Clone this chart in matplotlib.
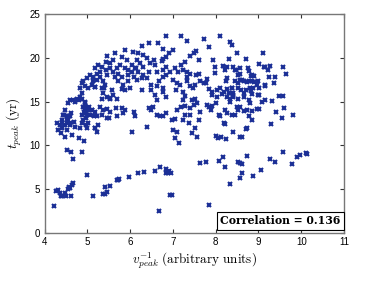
import numpy as np
import matplotlib
matplotlib.use('Agg')
import matplotlib.pyplot as plt

# lower branch and sparse points under the main cloud
low_x = [4.22, 4.27, 4.32, 4.36, 4.38, 4.41, 4.48, 4.50, 4.62, 4.56, 4.57, 4.60, 4.64, 4.66,
         5.00, 5.13, 5.36, 5.41, 5.46, 5.42, 5.53, 5.69, 5.72, 5.75, 5.97, 6.18, 6.32, 6.58,
         6.71, 6.83, 6.85, 6.91, 6.95, 6.88, 6.93, 6.97, 6.67,
         7.64, 7.78, 8.07, 8.17, 8.21, 8.34, 8.51, 8.56, 8.61, 8.61, 8.57, 8.72, 8.87, 9.06,
         9.28, 9.39, 9.57, 9.78, 9.90, 9.96, 10.10, 10.13, 7.84,
         4.52, 4.62, 4.67, 4.88, 4.92, 7.14]
low_y = [3.1, 4.8, 4.85, 4.6, 4.2, 4.2, 4.6, 4.2, 4.2, 5.0, 5.3, 5.15, 5.5, 5.7,
         6.65, 4.2, 4.45, 4.5, 4.7, 5.2, 5.37, 6.0, 6.1, 6.15, 6.4, 6.8, 7.0, 7.1,
         7.55, 7.3, 6.9, 7.1, 6.8, 6.85, 4.3, 4.35, 2.55,
         8.03, 8.14, 8.25, 8.64, 7.5, 5.55, 8.07, 7.97, 7.9, 6.9, 6.24, 8.79, 6.5, 7.19,
         8.41, 8.14, 9.2, 7.88, 8.64, 8.9, 9.1, 9.05, 3.2,
         9.5, 9.2, 8.5, 9.2, 10.45, 10.25]

# main cloud, left half
left_x = [6.83, 7.20, 6.43, 6.66, 6.27, 6.06, 6.19, 5.87, 5.65, 5.45,
          6.78, 6.90, 6.84, 7.00, 6.56, 6.47, 6.74, 6.78, 6.39, 6.30,
          6.15, 6.23, 6.31, 5.92, 6.04, 6.11, 5.96, 5.80, 5.76, 5.69, 5.61,
          5.53, 5.44, 5.34, 5.26, 5.18, 5.30, 5.22, 5.44, 5.53, 5.47,
          5.61, 5.65, 5.72, 5.80, 5.72, 5.80, 5.88, 5.94, 6.04, 6.14, 6.19,
          6.08, 6.15, 6.27, 6.39, 6.31, 6.45, 6.58, 6.62, 6.76, 6.84, 6.93,
          6.50, 6.62, 6.76, 6.68, 6.85, 6.78, 7.05, 7.13, 7.20, 7.28, 7.24, 7.32,
          7.01, 7.09, 7.17, 7.07, 7.23, 7.28,
          4.91, 4.87, 4.83, 5.00, 5.06, 5.14, 5.22, 4.95, 5.02, 5.10, 5.18, 5.14, 5.30, 5.37,
          5.34, 5.42, 5.36, 5.45, 5.61, 5.57, 5.34, 5.53, 5.69,
          5.84, 5.88, 5.96, 6.00, 6.27, 6.50, 6.58, 6.78, 6.85, 6.62,
          7.23, 7.20, 7.10, 7.28,
          4.60, 4.67, 4.75, 4.83, 4.87, 4.56, 4.95, 4.98, 4.91, 5.02, 4.95, 4.97,
          4.87, 4.98, 4.89, 5.06, 5.10, 5.02, 5.18, 5.22, 5.30, 5.37, 5.34,
          4.48, 4.44, 4.52, 4.60, 4.56, 4.63, 4.40, 4.36, 4.46, 4.52, 4.40, 4.52, 4.60,
          4.29, 4.32, 4.39, 4.48, 4.71, 4.83, 4.98, 5.18, 5.26, 5.22,
          5.45, 5.53, 5.69, 5.67, 5.80, 5.84, 5.88, 6.08, 6.11,
          6.43, 6.50, 6.54, 6.62, 6.70, 6.85, 6.78, 6.97, 7.05, 7.01, 7.09,
          7.28, 7.23, 6.04, 6.39, 7.04]
left_y = [22.5, 22.5, 21.65, 21.65, 21.3, 20.7, 20.5, 20.9, 20.5, 20.2,
          21.0, 20.6, 20.1, 20.9, 19.8, 19.4, 19.6, 19.9, 19.95, 20.3,
          19.8, 19.4, 19.0, 19.75, 19.2, 18.8, 18.6, 20.1, 19.2, 18.8, 19.75,
          19.4, 19.55, 19.0, 19.2, 18.8, 18.4, 18.2, 18.6, 18.8, 18.05,
          18.4, 17.85, 18.2, 17.85, 17.3, 16.4, 18.8, 18.05, 18.4, 18.8, 18.4,
          17.85, 17.5, 17.65, 17.65, 18.0, 18.4, 19.2, 18.4, 18.6, 19.0, 18.4,
          16.9, 16.8, 17.85, 17.3, 18.0, 16.6, 18.8, 18.4, 19.2, 19.55, 18.6, 17.85,
          17.45, 17.1, 16.9, 16.3, 16.1, 15.6,
          17.3, 17.1, 16.5, 17.65, 18.05, 17.85, 17.45, 16.8, 16.5, 16.9, 16.7, 17.3, 17.85, 17.3,
          16.5, 16.9, 15.95, 15.55, 15.75, 16.3, 15.35, 15.35, 15.35,
          16.9, 16.3, 17.3, 16.5, 16.3, 16.3, 15.75, 16.1, 15.55, 15.2,
          15.2, 14.4, 14.05, 14.5,
          15.2, 15.2, 15.35, 15.5, 15.25, 14.8, 15.0, 14.4, 14.4, 14.05, 14.05, 13.65,
          13.5, 13.1, 12.9, 13.5, 14.05, 12.6, 13.85, 13.3, 14.4, 14.05, 13.5,
          14.05, 13.5, 13.35, 13.3, 12.9, 13.65, 12.9, 12.3, 12.3, 12.5, 11.95, 11.75, 12.3,
          12.5, 11.75, 11.4, 11.0, 12.1, 11.95, 12.3, 11.95, 12.3, 11.55,
          13.1, 13.85, 13.3, 14.25, 14.25, 13.65, 14.05, 13.85, 13.3,
          14.25, 14.05, 14.4, 13.5, 13.35, 13.65, 13.3, 12.9, 13.0, 11.75, 11.55,
          13.5, 12.9, 11.55, 12.1, 10.9]

# main cloud, right half
right_x = [7.73, 8.11, 8.33, 8.38, 7.84, 7.33, 8.50, 7.50, 7.55, 7.41, 7.60, 7.94, 8.32,
           7.99, 8.18, 8.41, 7.99, 8.21, 8.48, 8.56, 8.52, 7.33, 7.39, 7.55, 7.60,
           7.64, 7.72, 7.78, 7.80, 8.26, 8.24, 8.45, 8.56, 7.33, 7.41, 7.47, 7.52,
           7.84, 7.92, 8.03, 8.11, 8.19, 8.26, 8.38, 8.41, 8.52, 8.60,
           7.92, 8.03, 8.15, 8.26, 8.34, 8.41, 8.52, 8.65,
           7.45, 7.52, 7.56, 7.49, 7.41, 7.80, 7.84, 7.92, 7.88, 8.00,
           8.07, 8.11, 8.21, 8.26, 8.38, 8.45, 8.52, 8.56, 7.64, 7.60, 7.41, 7.37,
           8.19, 8.41, 8.56, 7.52, 7.56, 8.00, 8.05, 8.13, 8.23, 8.22, 8.62, 7.45,
           9.11, 8.70, 9.01, 9.13, 9.16, 9.28, 9.22, 9.58, 9.64, 9.25, 9.39, 9.37, 9.16,
           8.78, 8.82, 8.86, 8.90, 8.67, 8.73, 8.78, 8.84, 8.90, 8.98, 9.01,
           8.70, 8.80, 8.82, 8.67, 8.86, 8.78, 8.80, 9.01, 9.09, 9.32, 9.48, 9.58,
           8.67, 8.84, 9.01, 9.41, 9.60, 9.80, 8.78, 8.84, 8.70, 8.74, 9.30]
right_y = [22.2, 22.5, 21.85, 21.45, 21.2, 21.95, 20.5, 20.6, 20.8, 20.2, 19.8, 19.8, 19.9,
           19.0, 19.05, 19.0, 18.3, 18.6, 18.6, 18.8, 18.05, 18.4, 18.15, 18.05, 18.15,
           17.3, 17.15, 17.1, 17.55, 17.65, 17.3, 17.3, 17.45, 17.3, 16.8, 16.5, 16.9,
           16.4, 16.1, 16.3, 16.5, 16.1, 16.4, 16.5, 15.95, 16.5, 16.3,
           15.75, 15.55, 15.85, 15.55, 15.35, 15.75, 15.35, 15.55,
           15.2, 15.35, 14.8, 14.6, 14.25, 14.6, 14.35, 14.5, 14.05, 14.8,
           13.5, 13.3, 14.05, 13.65, 13.5, 13.5, 14.05, 14.4, 13.85, 12.9, 13.5, 12.5,
           12.5, 11.55, 11.0, 11.95, 11.0, 11.1, 10.9, 11.0, 10.7, 12.4, 11.0, 11.4,
           20.55, 19.9, 19.3, 18.9, 19.0, 19.1, 18.6, 19.0, 18.15, 17.85, 17.8, 17.15, 16.8,
           18.5, 17.9, 18.0, 17.9, 17.4, 17.2, 17.3, 17.4, 17.2, 17.4, 16.6,
           16.3, 16.6, 16.2, 16.0, 15.9, 15.2, 14.8, 15.7, 14.9, 15.1, 15.6, 15.6,
           13.9, 13.9, 14.1, 13.8, 14.3, 13.5, 13.3, 12.9, 11.9, 12.0, 12.4]

# extra points read in the two densest clumps
dense_x = [8.26, 8.45, 8.57, 8.76, 8.61, 8.53, 8.37, 8.30, 8.41, 8.33, 8.49, 8.72, 8.96,
           9.00, 9.15, 9.15, 8.88, 8.96, 9.54,
           4.88, 4.80, 4.72, 4.95, 4.95, 5.03, 4.92, 5.11, 4.99, 5.15, 4.45, 4.57, 4.53,
           4.41, 4.49, 4.60, 4.68, 4.88, 4.99, 5.19, 5.46, 5.50, 4.64, 4.80, 5.54, 5.38, 5.19]
dense_y = [19.0, 18.6, 18.2, 18.8, 17.5, 17.1, 16.5, 15.95, 15.55, 15.0, 14.4, 14.05, 14.2,
           15.75, 15.2, 16.9, 16.5, 16.9, 13.1,
           15.95, 15.2, 15.0, 14.8, 14.2, 14.4, 13.85, 14.05, 13.5, 13.3, 13.5, 13.3, 12.9,
           12.7, 12.3, 12.5, 12.7, 12.5, 11.95, 11.95, 14.2, 13.1, 11.2, 10.8, 15.4, 16.5, 16.7]

corr = 0.136

plt.rcParams['mathtext.fontset'] = 'cm'
plt.rcParams['font.family'] = 'Liberation Sans'

fig = plt.figure(figsize=(3.74, 2.81), dpi=100)
ax = fig.add_axes([0.119, 0.171, 0.801, 0.779])

xs = low_x + left_x + right_x + dense_x
ys = low_y + left_y + right_y + dense_y
ax.plot(xs, ys, 'x', color='#1b2f96', markersize=3.3, markeredgewidth=1.5)

ax.set_xlim(4, 11)
ax.set_ylim(0, 25)
ax.set_xticks(np.arange(4, 12, 1))
ax.set_yticks(np.arange(0, 26, 5))
ax.tick_params(direction='in', length=3, width=0.8, labelsize=7, top=True, right=True,
               colors='#333333', labelcolor='black', pad=3)
for s in ax.spines.values():
    s.set_color('#777777')
    s.set_linewidth(1.0)

ax.set_xlabel(r'$v_{peak}^{-1}\ \mathrm{(arbitrary\ units)}$', fontsize=9.5, labelpad=2)
ax.set_ylabel(r'$t_{peak}\ \mathrm{(yr)}$', fontsize=9.5, labelpad=4)

ax.text(0.988, 0.03, 'Correlation = %.3f' % corr, family='DejaVu Serif', weight='bold',
        transform=ax.transAxes, ha='right', va='bottom', fontsize=7.8,
        bbox=dict(boxstyle='square,pad=0.3', fc='white', ec='black', lw=0.8))

fig.savefig('out.png', dpi=100)
